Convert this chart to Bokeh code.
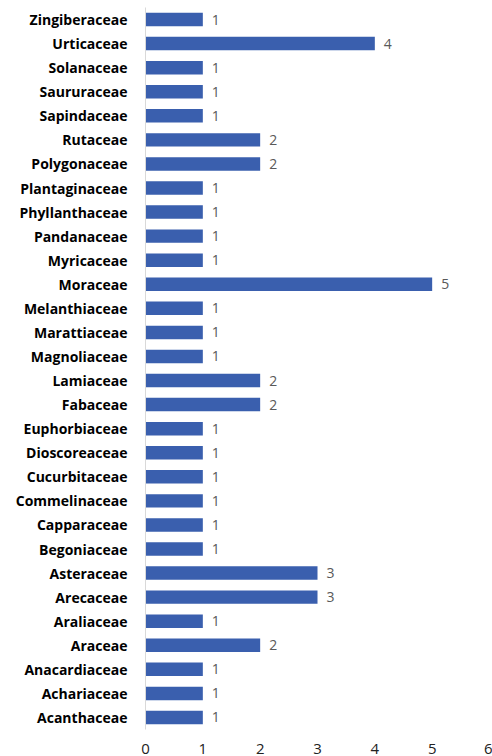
from bokeh.plotting import figure
from bokeh.models import ColumnDataSource, FactorRange, Range1d, FixedTicker
from bokeh.core.properties import value
from bokeh.embed import file_html
from bokeh.resources import INLINE

# Plant families (bottom to top) and number of species in each
families = [
    "Acanthaceae", "Achariaceae", "Anacardiaceae", "Araceae", "Araliaceae",
    "Arecaceae", "Asteraceae", "Begoniaceae", "Capparaceae", "Commelinaceae",
    "Cucurbitaceae", "Dioscoreaceae", "Euphorbiaceae", "Fabaceae", "Lamiaceae",
    "Magnoliaceae", "Marattiaceae", "Melanthiaceae", "Moraceae", "Myricaceae",
    "Pandanaceae", "Phyllanthaceae", "Plantaginaceae", "Polygonaceae", "Rutaceae",
    "Sapindaceae", "Saururaceae", "Solanaceae", "Urticaceae", "Zingiberaceae",
]
counts = [
    1, 1, 1, 2, 1,
    3, 3, 1, 1, 1,
    1, 1, 1, 2, 2,
    1, 1, 1, 5, 1,
    1, 1, 1, 2, 2,
    1, 1, 1, 4, 1,
]
x_ticks = [0, 1, 2, 3, 4, 5, 6]

FONT = "Open Sans"

source = ColumnDataSource(dict(
    family=families,
    count=counts,
    label=[str(c) for c in counts],
))

p = figure(
    width=492, height=756,
    y_range=FactorRange(factors=families, range_padding=0),
    x_range=Range1d(0, 6),
    output_backend="svg",
    toolbar_location=None,
    min_border_left=145, min_border_right=3,
    min_border_top=7, min_border_bottom=27,
)

p.hbar(y="family", right="count", left=0, height=0.56,
       source=source, fill_color="#3a5fae", line_color=None)

p.text(x="count", y="family", text="label", source=source,
       x_offset=9, text_baseline="middle", text_align="left",
       text_font=value(FONT), text_font_size="14px", text_color="#595959")

p.outline_line_color = None
p.xgrid.grid_line_color = None
p.ygrid.grid_line_color = None
p.background_fill_color = "white"
p.border_fill_color = "white"

ya = p.yaxis[0]
ya.axis_line_color = "#d9d9d9"
ya.axis_line_width = 1
ya.major_tick_line_color = None
ya.minor_tick_line_color = None
ya.major_tick_out = 0
ya.minor_tick_out = 0
ya.major_label_standoff = 18
ya.major_label_text_font = FONT
ya.major_label_text_font_style = "bold"
ya.major_label_text_font_size = "14px"
ya.major_label_text_color = "#000000"

xa = p.xaxis[0]
xa.ticker = FixedTicker(ticks=x_ticks)
xa.axis_line_color = None
xa.major_tick_line_color = None
xa.minor_tick_line_color = None
xa.major_tick_out = 0
xa.minor_tick_out = 0
xa.major_label_standoff = 14
xa.major_label_text_font = FONT
xa.major_label_text_font_size = "15px"
xa.major_label_text_color = "#222222"

open("out.html", "w").write(file_html(p, INLINE))
